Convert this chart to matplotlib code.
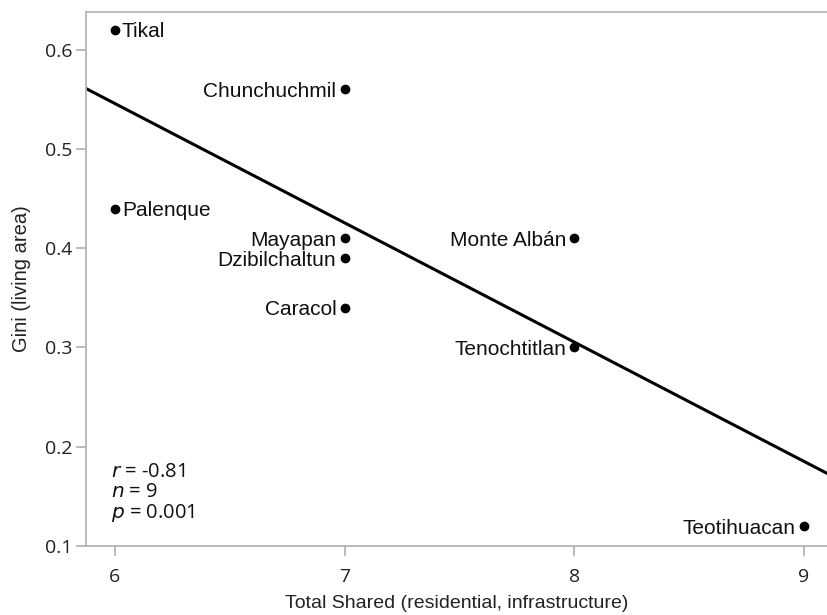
import numpy as np
import matplotlib.pyplot as plt

# Gini of living area vs. total shared goods per site
sites = ['Tikal', 'Palenque', 'Chunchuchmil', 'Mayapan', 'Dzibilchaltun',
         'Caracol', 'Monte Albán', 'Tenochtitlan', 'Teotihuacan']
shared = [6, 6, 7, 7, 7, 7, 8, 8, 9]
gini = [0.62, 0.44, 0.56, 0.41, 0.39, 0.34, 0.41, 0.30, 0.12]
label_side = ['right', 'right', 'left', 'left', 'left', 'left', 'left', 'left', 'left']
stats_text = ['$r$ = -0.81', '$n$ = 9', '$p$ = 0.001']

grey = '#b5b5b5'
label_font = 'Liberation Sans'
tick_font = 'Open Sans'

fig = plt.figure(figsize=(8.28, 6.15), dpi=100)
ax = fig.add_axes([0.1039, 0.1122, 0.8961, 0.8683])

x = np.array(shared, dtype=float)
y = np.array(gini)

ax.plot(x, y, 'o', color='black', markersize=6, zorder=3)

# least squares fit across the full x range
slope, icpt = np.polyfit(x, y, 1)
xlim = (5.874, 9.105)
xs = np.array(xlim)
ax.plot(xs, slope * xs + icpt, color='black', linewidth=2.2, zorder=2)

for name, xi, yi, side in zip(sites, x, y, label_side):
    if side == 'right':
        off, ha = 5, 'left'
    else:
        off, ha = -6, 'right'
    ax.annotate(name, (xi, yi), xytext=(off, 0), textcoords='offset points',
                ha=ha, va='center_baseline', fontsize=15, family=label_font,
                color='#111111')

ax.text(0.034, 0.099, '\n'.join(stats_text), transform=ax.transAxes,
        ha='left', va='center', fontsize=14.5, family=tick_font,
        linespacing=1.0, color='#111111')

ax.set_xlim(*xlim)
ax.set_ylim(0.1, 0.638)
ax.set_xticks([6, 7, 8, 9])
ax.set_yticks([0.1, 0.2, 0.3, 0.4, 0.5, 0.6])
ax.set_yticklabels(['0.1', '0.2', '0.3', '0.4', '0.5', '0.6'])

for side in ['left', 'top', 'bottom']:
    ax.spines[side].set_color(grey)
    ax.spines[side].set_linewidth(1.3)
ax.spines['right'].set_visible(False)

ax.tick_params(axis='both', which='both', direction='out', length=7,
               width=1.3, color=grey, labelsize=14, labelcolor='#222222')
ax.tick_params(axis='x', pad=9)
ax.tick_params(axis='y', pad=3)
for lbl in ax.get_xticklabels() + ax.get_yticklabels():
    lbl.set_family(tick_font)

ax.set_xlabel('Total Shared (residential, infrastructure)', fontsize=14,
              family=label_font, color='#222222', labelpad=6)
ax.set_ylabel('Gini (living area)', fontsize=14.5, family=label_font,
              color='#222222', labelpad=10)

fig.savefig('out.png', dpi=100)
